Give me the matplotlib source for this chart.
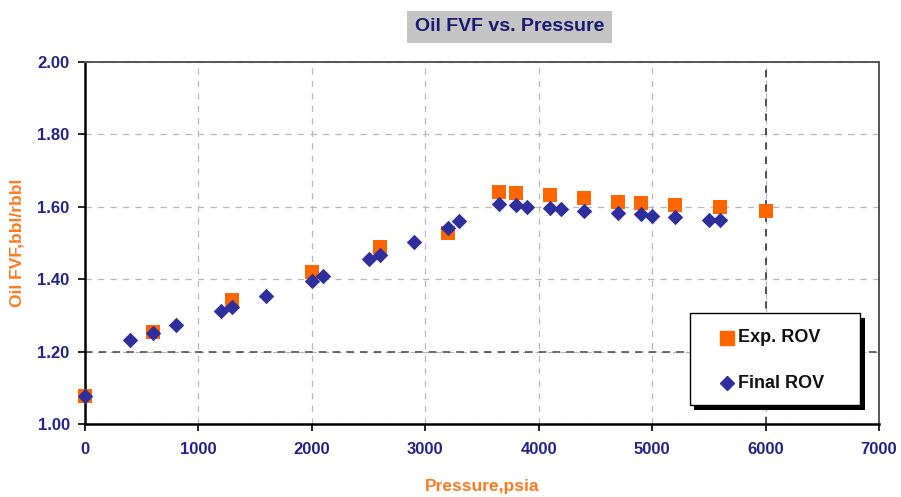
import matplotlib
matplotlib.use("Agg")
import matplotlib.pyplot as plt
from matplotlib.patches import FancyBboxPatch

plt.rcParams['font.family'] = ['Liberation Sans', 'DejaVu Sans']

# measured (experimental) oil formation volume factor
exp_pressure = [0, 600, 1300, 2000, 2600, 3200, 3650, 3800, 4100, 4400,
                4700, 4900, 5200, 5600, 6000]
exp_fvf = [1.077, 1.255, 1.343, 1.42, 1.49, 1.528, 1.641, 1.638, 1.633, 1.624,
           1.613, 1.61, 1.605, 1.60, 1.587]

# final tuned model
final_pressure = [0, 400, 600, 800, 1200, 1300, 1600, 2000, 2100, 2500, 2600,
                  2900, 3200, 3300, 3650, 3800, 3900, 4100, 4200, 4400, 4700,
                  4900, 5000, 5200, 5500, 5600]
final_fvf = [1.077, 1.232, 1.251, 1.273, 1.312, 1.323, 1.354, 1.395, 1.408,
             1.455, 1.467, 1.503, 1.541, 1.561, 1.608, 1.605, 1.60, 1.597,
             1.594, 1.587, 1.584, 1.58, 1.575, 1.571, 1.564, 1.564]

x_ticks = [0, 1000, 2000, 3000, 4000, 5000, 6000, 7000]
y_ticks = [1.00, 1.20, 1.40, 1.60, 1.80, 2.00]

navy = '#22228a'
orange = '#ff7a1f'

fig = plt.figure(figsize=(9.01, 4.97), dpi=100)
ax = fig.add_axes([0.0943, 0.1469, 0.8813, 0.7284])

ax.set_xlim(0, 7000)
ax.set_ylim(1.0, 2.0)
ax.set_xticks(x_ticks)
ax.set_yticks(y_ticks)
ax.set_xticklabels([str(v) for v in x_ticks])
ax.set_yticklabels([f"{v:.2f}" for v in y_ticks])

ax.grid(True, color='#b8b8b8', linestyle=(0, (5, 5)), linewidth=0.9)
ax.axhline(1.2, color='#444444', linestyle=(0, (5, 4)), linewidth=1.1, zorder=1)
ax.axvline(6000, color='#444444', linestyle=(0, (4, 4)), linewidth=1.3, zorder=1)
ax.set_axisbelow(True)

for side in ['left', 'bottom']:
    ax.spines[side].set_color('black')
    ax.spines[side].set_linewidth(1.8)
for side in ['top', 'right']:
    ax.spines[side].set_color('#555555')
    ax.spines[side].set_linewidth(1.4)

ax.tick_params(axis='both', direction='out', length=5, width=1.2,
               colors='black', labelsize=12, labelcolor=navy)
ax.tick_params(axis='x', pad=8)
ax.tick_params(axis='y', pad=6)
for lab in ax.get_xticklabels() + ax.get_yticklabels():
    lab.set_fontweight('bold')

ax.scatter(exp_pressure, exp_fvf, marker='s', s=100, color='#ff6600',
           linewidths=0, zorder=3, clip_on=False, label='Exp. ROV')
ax.scatter(final_pressure, final_fvf, marker='D', s=62, color='#2e2e9c',
           linewidths=0, zorder=4, clip_on=False, label='Final ROV')

ax.set_xlabel('Pressure,psia', color=orange, fontsize=12.5,
              fontweight='bold', labelpad=16)
ax.set_ylabel('Oil FVF,bbl/rbbl', color=orange, fontsize=12.5,
              fontweight='bold', labelpad=9)

fig.text(0.5655, 0.946, 'Oil FVF vs. Pressure', ha='center', va='center',
         fontsize=14, fontweight='bold', color='#1a1a70',
         bbox=dict(boxstyle='square,pad=0.4', facecolor='#c4c4c4',
                   edgecolor='none'))

# legend box with drop shadow
lx, ly, lw, lh = 0.7658, 0.185, 0.1887, 0.185
shadow = FancyBboxPatch((lx + 0.005, ly - 0.009), lw, lh,
                        boxstyle='square,pad=0', transform=fig.transFigure,
                        facecolor='black', edgecolor='none', zorder=5)
box = FancyBboxPatch((lx, ly), lw, lh, boxstyle='square,pad=0',
                     transform=fig.transFigure, facecolor='white',
                     edgecolor='black', linewidth=1.0, zorder=6)
fig.patches.extend([shadow, box])
fig.lines.append(plt.Line2D([0.8068], [0.3205], marker='s', markersize=9.5,
                            color='#ff6600', linestyle='none',
                            transform=fig.transFigure, zorder=7))
fig.lines.append(plt.Line2D([0.8068], [0.229], marker='D', markersize=7,
                            color='#2e2e9c', linestyle='none',
                            transform=fig.transFigure, zorder=7))
fig.text(0.8195, 0.3205, 'Exp. ROV', ha='left', va='center', fontsize=13,
         fontweight='bold', color='#111111', zorder=8)
fig.text(0.8195, 0.229, 'Final ROV', ha='left', va='center', fontsize=13,
         fontweight='bold', color='#111111', zorder=8)

fig.savefig('out.png', dpi=100)
